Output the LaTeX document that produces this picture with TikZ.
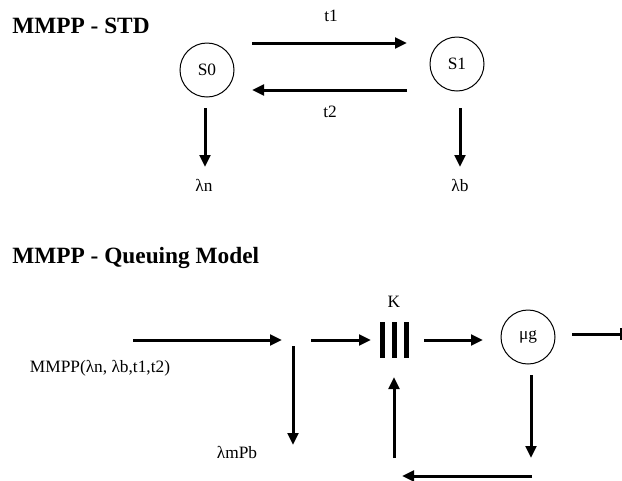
\documentclass[tikz,border=0pt]{standalone}
\usepackage{fontspec}
\setmainfont{Liberation Serif}
\usetikzlibrary{arrows.meta}
\tikzset{
    state/.style = {circle,
                    fill=white,
                    draw=black,
                    text=black,
                    line width=0.75pt,
                    minimum size=40.5pt,
                    inner sep=0pt,
                    font=\fontsize{13}{15}\selectfont},
    title/.style = {anchor=west,
                    inner sep=0pt,
                    font=\fontsize{17.5}{21}\selectfont\bfseries},
    lbl/.style =   {inner sep=0pt,
                    font=\fontsize{13}{15}\selectfont},
    flow/.style =  {line width=2.25pt,
                    -{Triangle[length=9pt,width=8pt]}},
    bar/.style =   {fill=black,
                    draw=none,
                    minimum width=3.75pt,
                    minimum height=27pt,
                    inner sep=0pt},
    -,
    >=stealth}

\begin{document}
\begin{tikzpicture}[x=0.75pt,y=-0.75pt]
            \useasboundingbox (0,0) rectangle (622,480);
            % state transition diagram
            \node[title]  (T1) at (12,26)         {MMPP - STD};
            \node[state]  (S0) at (207,70)        {S0};
            \node[state]  (S1) at (457,64)        {S1};
            \coordinate (t1a) at (252,43);
            \coordinate (t1b) at (407,43);
            \coordinate (t2a) at (407,90);
            \coordinate (t2b) at (252,90);
            \coordinate (S0d) at (205,108);
            \coordinate (LN)  at (205,167);
            \coordinate (S1d) at (460,108);
            \coordinate (LB)  at (460,167);
            \draw[flow]  (t1a) -- (t1b);
            \draw[flow]  (t2a) -- (t2b);
            \draw[flow]  (S0d) -- (LN);
            \draw[flow]  (S1d) -- (LB);
            \node[lbl]    (t1) at (331,16)        {t1};
            \node[lbl]    (t2) at (330,112)       {t2};
            \node[lbl]    (ln) at (204,185)       {λn};
            \node[lbl]    (lb) at (460,185)       {λb};
            % queuing model
            \node[title]  (T2) at (12,258)        {MMPP - Queuing Model};
            \node[lbl]    (in) at (100,368)       {MMPP(λn, λb,t1,t2)};
            \coordinate (ia) at (133,340);
            \coordinate (ib) at (282,340);
            \coordinate (sa) at (293,346);
            \coordinate (sb) at (293,445);
            \coordinate (qa) at (311,340);
            \coordinate (qb) at (371,340);
            \node[bar]    (B1) at (382.5,340)     {};
            \node[bar]    (B2) at (394.5,340)     {};
            \node[bar]    (B3) at (406.5,340)     {};
            \node[lbl]    (K)  at (394,302)       {K};
            \node[state]  (G)  at (528,337)       {μg};
            \coordinate (ga) at (424,340);
            \coordinate (gb) at (483,340);
            \coordinate (oa) at (572,334);
            \coordinate (ob) at (620.5,334);
            \coordinate (da) at (531,375);
            \coordinate (db) at (531,458);
            \coordinate (ra) at (532,476);
            \coordinate (rb) at (402,476);
            \coordinate (ua) at (394,458);
            \coordinate (ub) at (394,377);
            \draw[flow]  (ia) -- (ib);
            \draw[flow]  (sa) -- (sb);
            \draw[flow]  (qa) -- (qb);
            \draw[flow]  (ga) -- (gb);
            \draw[line width=2.25pt] (oa) -- (ob);
            \draw[line width=1.5pt] ([yshift=-4.5pt]ob) -- ([yshift=4.5pt]ob);
            \draw[flow]  (da) -- (db);
            \draw[flow]  (ra) -- (rb);
            \draw[flow]  (ua) -- (ub);
            \node[lbl]    (lm) at (237,452)       {λmPb};
\end{tikzpicture}
\end{document}
